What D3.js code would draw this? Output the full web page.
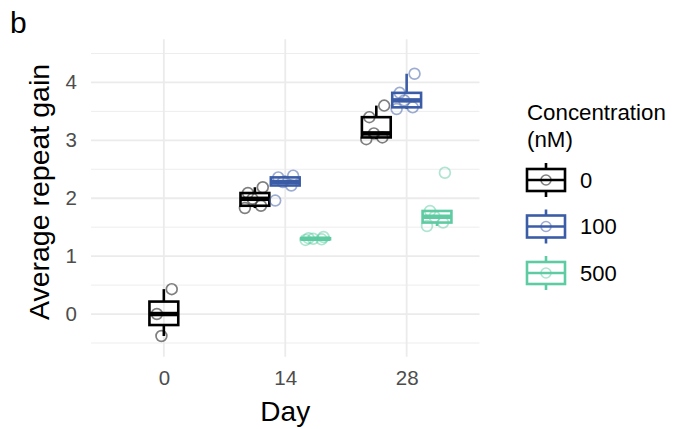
<!DOCTYPE html>
<html>
<head>
<meta charset="utf-8">
<script src="https://cdn.jsdelivr.net/npm/d3@7"></script>
<style>
  html, body { margin: 0; padding: 0; background: #fff; }
  svg { display: block; font-family: "Liberation Sans", Arial, sans-serif; }
</style>
</head>
<body>
<div id="chart"></div>
<script>
// categories
const days = ["0", "14", "28"];
const concentrations = ["0", "100", "500"];
const colors = ["#000000", "#3b5ca6", "#5fcba3"];
const yTicks = [0, 1, 2, 3, 4];

// average repeat gain per replicate, by day and concentration
const gainDay0Conc0 = [0.43, 0.00, -0.38];
const gainDay14Conc0 = [2.19, 2.09, 1.99, 1.87, 1.83];
const gainDay14Conc100 = [2.39, 2.36, 2.28, 2.22, 1.96];
const gainDay14Conc500 = [1.33, 1.31, 1.30, 1.29, 1.28];
const gainDay28Conc0 = [3.60, 3.40, 3.12, 3.05, 3.02];
const gainDay28Conc100 = [4.15, 3.82, 3.69, 3.57, 3.54];
const gainDay28Conc500 = [2.44, 1.78, 1.68, 1.58, 1.52];

const groups = [
  { day: "0", conc: "0", values: gainDay0Conc0 },
  { day: "14", conc: "0", values: gainDay14Conc0 },
  { day: "14", conc: "100", values: gainDay14Conc100 },
  { day: "14", conc: "500", values: gainDay14Conc500 },
  { day: "28", conc: "0", values: gainDay28Conc0 },
  { day: "28", conc: "100", values: gainDay28Conc100 },
  { day: "28", conc: "500", values: gainDay28Conc500 }
];

// fixed horizontal jitter pattern (fraction of dodge width)
const jitter = [0.26, -0.23, -0.08, 0.2, -0.33];

const width = 677, height = 429;
const panel = { left: 91, right: 479.5, top: 39.3, bottom: 356.7 };

const svg = d3.select("#chart").append("svg")
  .attr("width", width)
  .attr("height", height)
  .attr("viewBox", `0 0 ${width} ${height}`);

// discrete x axis with ggplot-like 0.6 expansion
const x = d3.scalePoint()
  .domain(days)
  .range([panel.left, panel.right])
  .padding(0.6);

const y = d3.scaleLinear()
  .domain([-0.737, 4.745])
  .range([panel.bottom, panel.top]);

const step = x.step();
const dodgeWidth = step * 0.75 / concentrations.length;
const dodge = d3.scaleBand()
  .domain(concentrations)
  .range([-step * 0.375, step * 0.375]);
const colorOf = d3.scaleOrdinal().domain(concentrations).range(colors);

function groupCenter(g) {
  const present = groups.filter(d => d.day === g.day);
  if (present.length === 1) return x(g.day);
  return x(g.day) + dodge(g.conc) + dodge.bandwidth() / 2;
}

// grid
const grid = svg.append("g");
const minorTicks = d3.range(-0.5, 4.6, 1);
grid.selectAll("line.minor")
  .data(minorTicks)
  .join("line")
  .attr("x1", panel.left).attr("x2", panel.right)
  .attr("y1", d => y(d)).attr("y2", d => y(d))
  .attr("stroke", "#ebebeb").attr("stroke-width", 0.9);
grid.selectAll("line.major")
  .data(yTicks)
  .join("line")
  .attr("x1", panel.left).attr("x2", panel.right)
  .attr("y1", d => y(d)).attr("y2", d => y(d))
  .attr("stroke", "#ebebeb").attr("stroke-width", 1.8);
grid.selectAll("line.vx")
  .data(days)
  .join("line")
  .attr("x1", d => x(d)).attr("x2", d => x(d))
  .attr("y1", panel.top).attr("y2", panel.bottom)
  .attr("stroke", "#ebebeb").attr("stroke-width", 1.8);

// axes (text only, like theme_minimal)
const yAxis = svg.append("g")
  .attr("transform", `translate(${panel.left},0)`)
  .call(d3.axisLeft(y).tickValues(yTicks).tickFormat(d3.format("d")).tickSize(0).tickPadding(14));
yAxis.select(".domain").remove();
yAxis.selectAll("text")
  .attr("fill", "#4d4d4d")
  .style("font-size", "20.5px");

const xAxis = svg.append("g")
  .attr("transform", `translate(0,${panel.bottom})`)
  .call(d3.axisBottom(x).tickSize(0).tickPadding(14));
xAxis.select(".domain").remove();
xAxis.selectAll("text")
  .attr("fill", "#4d4d4d")
  .style("font-size", "20.5px");

// boxes
const boxes = svg.append("g");
groups.forEach(g => {
  const vals = g.values.slice().sort(d3.ascending);
  const q1 = d3.quantile(vals, 0.25);
  const med = d3.quantile(vals, 0.5);
  const q3 = d3.quantile(vals, 0.75);
  const iqr = q3 - q1;
  const lo = d3.min(vals.filter(v => v >= q1 - 1.5 * iqr));
  const hi = d3.max(vals.filter(v => v <= q3 + 1.5 * iqr));
  const cx = groupCenter(g);
  const bw = dodgeWidth * 0.95;
  const col = colorOf(g.conc);
  const b = boxes.append("g")
    .attr("stroke", col)
    .attr("fill", "none")
    .attr("stroke-width", 2.6);
  b.append("line")
    .attr("x1", cx).attr("x2", cx)
    .attr("y1", y(hi)).attr("y2", y(q3));
  b.append("line")
    .attr("x1", cx).attr("x2", cx)
    .attr("y1", y(q1)).attr("y2", y(lo));
  b.append("rect")
    .attr("x", cx - bw / 2).attr("width", bw)
    .attr("y", y(q3)).attr("height", y(q1) - y(q3));
  b.append("line")
    .attr("x1", cx - bw / 2).attr("x2", cx + bw / 2)
    .attr("y1", y(med)).attr("y2", y(med))
    .attr("stroke-width", 4.5);
});

// jittered points
const pts = svg.append("g");
groups.forEach(g => {
  const cx = groupCenter(g);
  const col = colorOf(g.conc);
  pts.selectAll(null)
    .data(g.values)
    .join("circle")
    .attr("cx", (d, i) => cx + jitter[i % jitter.length] * dodgeWidth)
    .attr("cy", d => y(d))
    .attr("r", 5.4)
    .attr("fill", "none")
    .attr("stroke", col)
    .attr("stroke-opacity", 0.5)
    .attr("stroke-width", 1.7);
});

// axis titles
svg.append("text")
  .attr("x", (panel.left + panel.right) / 2)
  .attr("y", 421)
  .attr("text-anchor", "middle")
  .style("font-size", "28px")
  .text("Day");

svg.append("text")
  .attr("transform", `translate(49,${(panel.top + panel.bottom) / 2 - 6}) rotate(-90)`)
  .attr("text-anchor", "middle")
  .style("font-size", "28.5px")
  .text("Average repeat gain");

svg.append("text")
  .attr("x", 10)
  .attr("y", 33)
  .style("font-size", "30px")
  .text("b");

// legend
const legend = svg.append("g").attr("transform", "translate(527,0)");
legend.append("text")
  .attr("x", 0).attr("y", 120)
  .style("font-size", "22.3px")
  .text("Concentration");
legend.append("text")
  .attr("x", 0).attr("y", 147)
  .style("font-size", "22.3px")
  .text("(nM)");

const keyY = d3.scalePoint().domain(concentrations).range([180, 273]);
const keys = legend.selectAll("g.key")
  .data(concentrations)
  .join("g")
  .attr("transform", d => `translate(0,${keyY(d)})`);
keys.each(function (d) {
  const k = d3.select(this);
  const col = colorOf(d);
  const kw = 38;
  k.append("line")
    .attr("x1", kw / 2).attr("x2", kw / 2)
    .attr("y1", -17).attr("y2", 17)
    .attr("stroke", col).attr("stroke-width", 2.6);
  k.append("rect")
    .attr("x", 0).attr("y", -11).attr("width", kw).attr("height", 22)
    .attr("fill", "#fff").attr("stroke", col).attr("stroke-width", 2.6);
  k.append("line")
    .attr("x1", 0).attr("x2", kw).attr("y1", 0).attr("y2", 0)
    .attr("stroke", col).attr("stroke-width", 2.6);
  k.append("circle")
    .attr("cx", kw / 2).attr("cy", 0).attr("r", 5)
    .attr("fill", "none").attr("stroke", col)
    .attr("stroke-opacity", 0.5).attr("stroke-width", 1.6);
  k.append("text")
    .attr("x", 53).attr("y", 0)
    .attr("dy", "0.36em")
    .style("font-size", "22px")
    .text(d);
});
</script>
</body>
</html>
